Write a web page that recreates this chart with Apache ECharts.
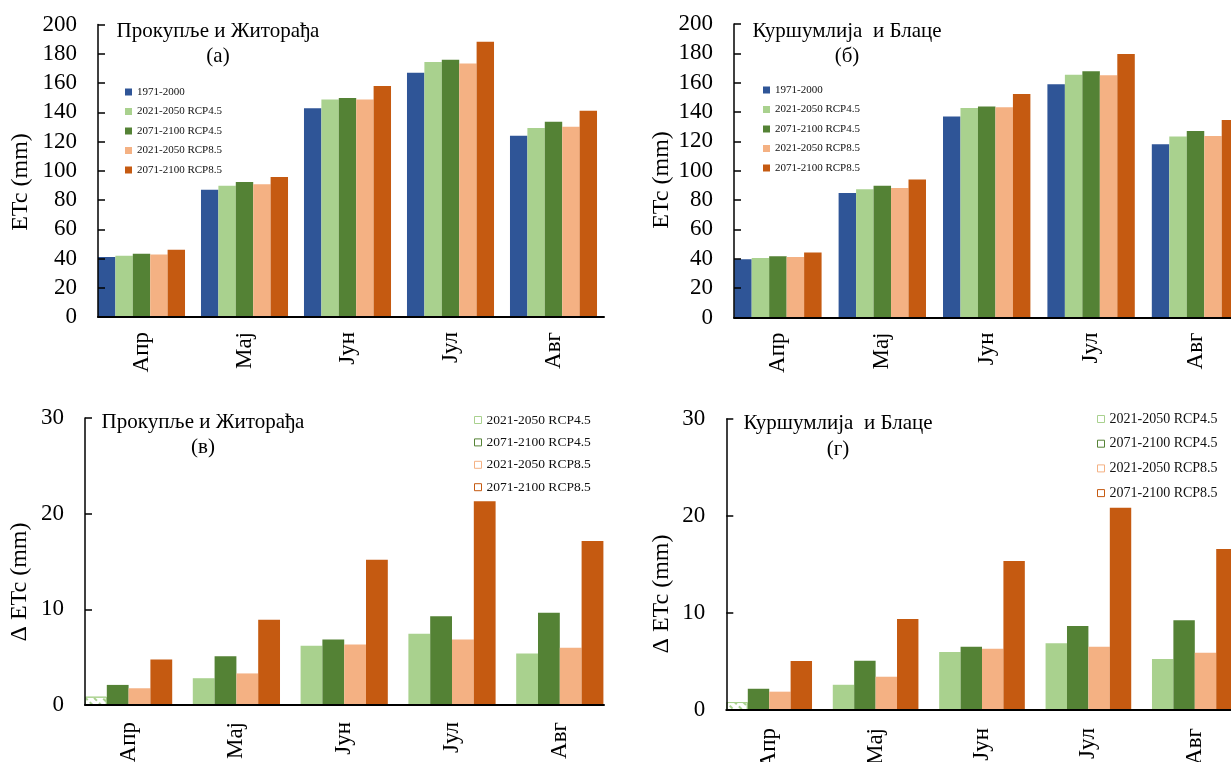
<!DOCTYPE html>
<html>
<head>
<meta charset="utf-8">
<script src="https://cdn.jsdelivr.net/npm/echarts@6/dist/echarts.min.js"></script>
<style>html,body{margin:0;padding:0;background:#fff}#c{width:1231px;height:762px}</style>
</head>
<body>
<div id="c"></div>
<script>
// ---- data ----
const months = ['Апр', 'Мај', 'Јун', 'Јул', 'Авг'];
const seriesNames = ['1971-2000', '2021-2050 RCP4.5', '2071-2100 RCP4.5', '2021-2050 RCP8.5', '2071-2100 RCP8.5'];
const seriesColors = ['#2F5597', '#A9D18E', '#548235', '#F4B183', '#C55A11'];
const etcAxis = [0, 200, 20];   // min, max, interval
const deltaAxis = [0, 30, 10];  // min, max, interval

// (а) Прокупље и Житорађа, ETc
const pzBase   = [41.0, 87.0, 142.8, 167.0, 123.9];
const pz45Near = [41.9, 89.7, 148.7, 174.3, 129.2];
const pz45Far  = [43.3, 92.3, 149.7, 175.9, 133.5];
const pz85Near = [42.8, 90.7, 148.7, 173.3, 130.1];
const pz85Far  = [46.0, 95.7, 157.9, 188.2, 141.0];
// (б) Куршумлија и Блаце, ETc
const kbBase   = [39.7, 84.9, 136.9, 158.9, 118.0];
const kb45Near = [40.6, 87.4, 142.8, 165.5, 123.3];
const kb45Far  = [41.8, 89.7, 143.7, 167.8, 127.1];
const kb85Near = [41.3, 88.3, 143.2, 165.0, 123.7];
const kb85Far  = [44.3, 94.0, 152.3, 179.6, 134.6];
// (в) Прокупље и Житорађа, Δ ETc
const dpz45Near = [0.87, 2.8, 6.2, 7.45, 5.38];
const dpz45Far  = [2.1, 5.1, 6.85, 9.27, 9.65];
const dpz85Near = [1.75, 3.3, 6.33, 6.85, 5.98];
const dpz85Far  = [4.76, 8.9, 15.17, 21.3, 17.13];
// (г) Куршумлија и Блаце, Δ ETc
const dkb45Near = [0.82, 2.6, 5.97, 6.89, 5.25];
const dkb45Far  = [2.19, 5.07, 6.51, 8.67, 9.26];
const dkb85Near = [1.89, 3.43, 6.31, 6.51, 5.9];
const dkb85Far  = [5.04, 9.39, 15.36, 20.84, 16.6];
// bars drawn with a hatch (index in month list) in delta panels
const hatchedMonth = [0];

// ---- layout ----
const FONT = "'Liberation Serif','Times New Roman',serif";
const panels = [
  { gridA: {left: 90, top: 24.5, width: 515, height: 292.5}, gridB: {left: 98, top: 24.5, width: 506, height: 292.5},
    axis: etcAxis, series: [pzBase, pz45Near, pz45Far, pz85Near, pz85Far], names: [0,1,2,3,4],
    gap: '15.5%', margin: 15, title: 'Прокупље и Житорађа\n(а)', tx: 218, ty: 18.5, tlh: 25,
    yname: 'ETc (mm)', nx: 21, ny: 182,
    legend: {left: 125, top: 86, fs: 11, lh: 12, gap: 7.5, hollow: false} },
  { gridA: {left: 725.7, top: 24, width: 522, height: 293.5}, gridB: {left: 734, top: 24, width: 514, height: 293.5},
    axis: etcAxis, series: [kbBase, kb45Near, kb45Far, kb85Near, kb85Far], names: [0,1,2,3,4],
    gap: '16.3%', margin: 15, title: 'Куршумлија  и Блаце\n(б)', tx: 847, ty: 18.5, tlh: 25,
    yname: 'ETc (mm)', nx: 662, ny: 180,
    legend: {left: 763, top: 84, fs: 11, lh: 12, gap: 7.5, hollow: false} },
  { gridA: {left: 74.7, top: 418, width: 539, height: 287}, gridB: {left: 85, top: 418, width: 519, height: 287},
    axis: deltaAxis, series: [dpz45Near, dpz45Far, dpz85Near, dpz85Far], names: [1,2,3,4],
    gap: '19.1%', margin: 17, title: 'Прокупље и Житорађа\n(в)', tx: 203, ty: 410, tlh: 25,
    yname: 'Δ ETc (mm)', nx: 20, ny: 582,
    legend: {left: 474, top: 413, fs: 13.5, lh: 14, gap: 8.4, hollow: true} },
  { gridA: {left: 716, top: 419, width: 532, height: 291}, gridB: {left: 726.3, top: 419, width: 522, height: 291},
    axis: deltaAxis, series: [dkb45Near, dkb45Far, dkb85Near, dkb85Far], names: [1,2,3,4],
    gap: '19.5%', margin: 18, title: 'Куршумлија  и Блаце\n(г)', tx: 838, ty: 410.5, tlh: 26,
    yname: 'Δ ETc (mm)', nx: 662, ny: 594,
    legend: {left: 1097, top: 412, fs: 14, lh: 14, gap: 10.7, hollow: true} }
];

const option = {
  animation: false,
  backgroundColor: '#fff',
  grid: [], xAxis: [], yAxis: [], series: [], legend: [], title: [], graphic: []
};

panels.forEach((p, i) => {
  const ga = 2 * i, gb = 2 * i + 1;
  option.grid.push(Object.assign({containLabel: false, outerBoundsMode: 'none'}, p.gridA));
  option.grid.push(Object.assign({containLabel: false, outerBoundsMode: 'none'}, p.gridB));
  // bar grid axes
  option.xAxis.push({
    type: 'category', gridIndex: ga, data: months,
    axisLine: {show: false}, axisTick: {show: false}, splitLine: {show: false},
    axisLabel: {rotate: 90, interval: 0, margin: p.margin, fontSize: 23, fontFamily: FONT, color: '#000'}
  });
  option.yAxis.push({
    type: 'value', gridIndex: ga, min: p.axis[0], max: p.axis[1], interval: p.axis[2], show: false
  });
  // axis-only grid
  option.xAxis.push({
    type: 'value', gridIndex: gb, min: 0, max: 1, z: 5,
    axisLine: {show: true, lineStyle: {color: '#000', width: 2}},
    axisTick: {show: false}, axisLabel: {show: false}, splitLine: {show: false}
  });
  option.yAxis.push({
    type: 'value', gridIndex: gb, min: p.axis[0], max: p.axis[1], interval: p.axis[2], z: 5,
    axisLine: {show: true, lineStyle: {color: '#000', width: 1.5}},
    axisTick: {show: true, inside: true, length: 7, lineStyle: {color: '#000', width: 1.5}},
    axisLabel: {margin: 21, fontSize: 23, fontFamily: FONT, color: '#000'},
    splitLine: {show: false}
  });
  const isDelta = p.legend.hollow;
  p.series.forEach((vals, k) => {
    const ci = p.names[k];
    const data = vals.map((v, m) => {
      if (isDelta && ci === 1 && hatchedMonth.indexOf(m) >= 0) {
        return {value: v, itemStyle: {color: '#fff', borderColor: seriesColors[ci], borderWidth: 1,
          decal: {symbol: 'rect', color: seriesColors[ci], dashArrayX: [[4, 3]], dashArrayY: [2, 4], rotation: Math.PI / 4, symbolSize: 1}}};
      }
      return v;
    });
    option.series.push({
      type: 'bar', name: seriesNames[ci], xAxisIndex: ga, yAxisIndex: ga,
      data: data, barGap: '0%', barCategoryGap: p.gap,
      itemStyle: {color: seriesColors[ci]}, emphasis: {disabled: true}
    });
  });
  option.legend.push({
    orient: 'vertical', left: p.legend.left, top: p.legend.top, padding: 0,
    itemWidth: 7, itemHeight: 7, itemGap: p.legend.gap, icon: 'rect',
    selectedMode: false,
    data: p.names.map(ci => isDelta
      ? {name: seriesNames[ci], itemStyle: {color: '#fff', borderColor: seriesColors[ci], borderWidth: 1}}
      : {name: seriesNames[ci], itemStyle: {color: seriesColors[ci]}}),
    textStyle: {fontFamily: FONT, fontSize: p.legend.fs, lineHeight: p.legend.lh, color: '#111', padding: 0}
  });
  option.title.push({
    text: p.title, left: p.tx, top: p.ty, textAlign: 'center', padding: 0,
    textStyle: {fontFamily: FONT, fontSize: 21, fontWeight: 'normal', color: '#000', lineHeight: p.tlh, align: 'center'}
  });
  option.graphic.push({
    type: 'text', x: p.nx, y: p.ny, rotation: Math.PI / 2,
    style: {text: p.yname, font: '24px ' + FONT, fill: '#000', align: 'center', verticalAlign: 'middle'}
  });
});

const chart = echarts.init(document.getElementById('c'), null, {renderer: 'canvas'});
chart.setOption(option);
</script>
</body>
</html>
